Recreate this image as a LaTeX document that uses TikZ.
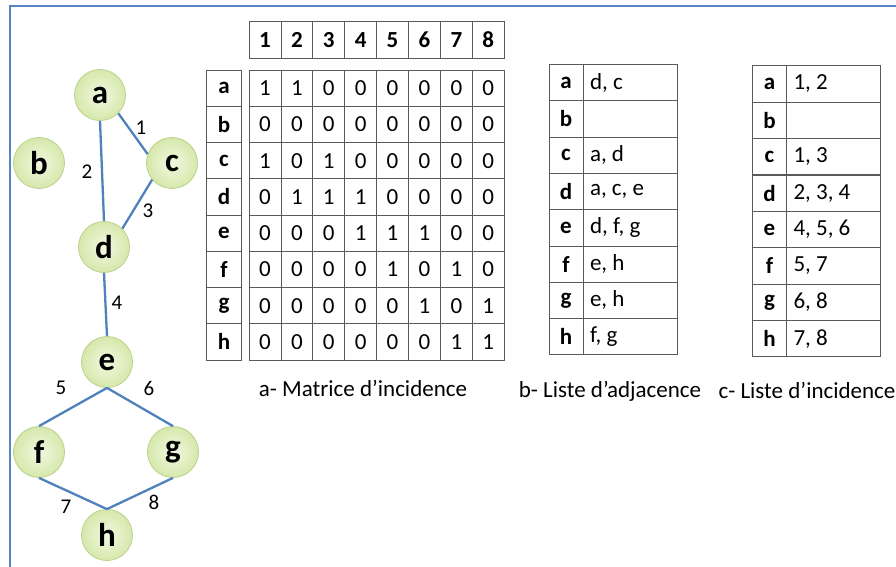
\documentclass[tikz,border=0pt]{standalone}
\usepackage{fontspec}
\setmainfont{Carlito}
\usepackage{tikz}
\usetikzlibrary{positioning}
\definecolor{edgeblue}{RGB}{79,129,189}
\definecolor{framblue}{RGB}{84,134,196}
\definecolor{vertfill}{RGB}{242,248,224}
\definecolor{vertedge}{RGB}{214,232,172}
\definecolor{vertline}{RGB}{188,210,140}
\definecolor{gridgray}{RGB}{90,90,90}

\begin{document}
\begin{tikzpicture}[
x=1pt, y=-1pt,
vertex/.style={circle, draw=vertline, line width=0.8pt, inner color=vertfill, outer color=vertedge, minimum size=51pt, inner sep=0pt, font=\fontsize{33}{36}\selectfont\bfseries},
link/.style={draw=edgeblue, line width=2.3pt},
elabel/.style={font=\fontsize{21}{24}\selectfont, inner sep=0pt},
cell/.style={draw=gridgray, line width=0.8pt, minimum width=31.9pt, minimum height=36.25pt, inner sep=0pt, font=\fontsize{23}{26}\selectfont},
headcell/.style={cell, font=\fontsize{23}{26}\selectfont\bfseries},
labcell/.style={cell, minimum width=35.5pt, font=\fontsize{23}{26}\selectfont\bfseries},
valcell/.style={cell, minimum width=94pt},
caption/.style={font=\fontsize{23}{27}\selectfont, inner sep=0pt}
]
\useasboundingbox (0,0) rectangle (896,567);
\draw[draw=framblue, line width=2pt] (10,567) -- (10,6) -- (896,6);

% graph
\node[vertex] (a) at (100,95) {a};
\node[vertex] (b) at (39,163) {b};
\node[vertex] (c) at (172,163) {c};
\node[vertex] (d) at (104,247) {d};
\node[vertex] (e) at (107,362) {e};
\node[vertex] (f) at (39,452) {f};
\node[vertex] (g) at (173,452) {g};
\node[vertex] (h) at (107,535) {h};
\draw[link] (a.-45) -- (c.160);
\draw[link] (a.south) -- (d.north);
\draw[link] (c.220) -- (d.45);
\draw[link] (d.south) -- (e.north);
\draw[link] (e.south) -- (f.north);
\draw[link] (e.south) -- (g.north);
\draw[link] (f.south) -- (h.north);
\draw[link] (g.south) -- (h.north);
\node[elabel] (l1) at (141,128) {1};
\node[elabel] (l2) at (87,172) {2};
\node[elabel] (l3) at (148,211) {3};
\node[elabel] (l4) at (117,303) {4};
\node[elabel] (l5) at (61,388) {5};
\node[elabel] (l6) at (149,388) {6};
\node[elabel] (l7) at (66,507) {7};
\node[elabel] (l8) at (154,502) {8};

% incidence matrix
\foreach \j in {1,...,8}
  \node[headcell] (mh-\j) at ({249+31.9*(\j-0.5)},40) {\j};
\foreach \lab/\vals [count=\i] in {a/{1,1,0,0,0,0,0,0}, b/{0,0,0,0,0,0,0,0}, c/{1,0,1,0,0,0,0,0}, d/{0,1,1,1,0,0,0,0}, e/{0,0,0,1,1,1,0,0}, f/{0,0,0,0,1,0,1,0}, g/{0,0,0,0,0,1,0,1}, h/{0,0,0,0,0,0,1,1}} {
  \node[labcell] (mr-\i) at (224,{70+36.25*(\i-0.5)}) {\lab};
  \foreach \v [count=\j] in \vals
    \node[cell] (mx-\i-\j) at ({249+31.9*(\j-0.5)},{70+36.25*(\i-0.5)}) {\v};
}
\node[caption] (capa) at (363,388) {a- Matrice d’incidence};

% adjacency list
\foreach \lab/\txt [count=\i] in {a/{d, c}, b/{}, c/{a, d}, d/{a, c, e}, e/{d, f, g}, f/{e, h}, g/{e, h}, h/{f, g}} {
  \node[labcell, minimum width=34pt] (ar-\i) at (566,{64.5+36.3*(\i-0.5)}) {\lab};
  \node[valcell] (av-\i) at (630,{64.5+36.3*(\i-0.5)}) {\makebox[80pt][l]{\txt}};
}
\node[caption] (capb) at (610,391) {b- Liste d’adjacence};

% incidence list
\foreach \lab/\txt [count=\i] in {a/{1, 2}, b/{}, c/{1, 3}, d/{2, 3, 4}, e/{4, 5, 6}, f/{5, 7}, g/{6, 8}, h/{7, 8}} {
  \node[labcell, minimum width=34.5pt] (ir-\i) at (769.5,{65.7+36.4*(\i-0.5)}) {\lab};
  \node[valcell] (iv-\i) at (833.5,{65.7+36.4*(\i-0.5)}) {\makebox[80pt][l]{\txt}};
}
\node[caption] (capc) at (807,390) {c- Liste d’incidence};
\end{tikzpicture}
\end{document}
